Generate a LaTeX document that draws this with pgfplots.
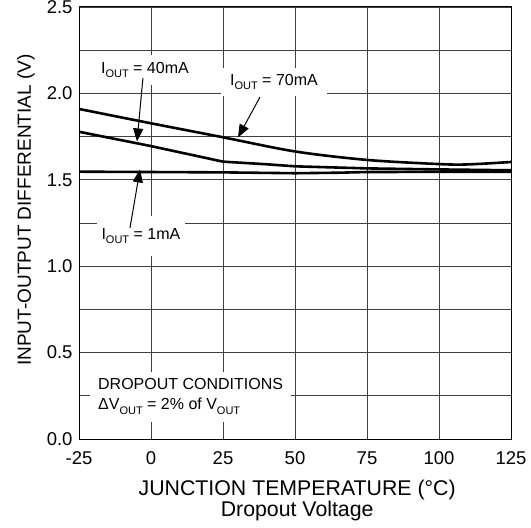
\documentclass[border=0pt]{standalone}
\usepackage{fontspec}
\setmainfont{Liberation Sans}
\usepackage{pgfplots}
\pgfplotsset{compat=1.18}
\usetikzlibrary{arrows.meta,calc}

% subscript as drawn on the datasheet
\newcommand{\sub}[1]{\raisebox{-0.28em}{\fontsize{11}{11}\selectfont #1}}

\begin{document}
\begin{tikzpicture}
\begin{axis}[
    scale only axis,
    width=432pt, height=432pt,
    xmin=-25, xmax=125,
    ymin=0, ymax=2.5,
    xtick={-25,0,25,50,75,100,125},
    xticklabels={-25,0,25,50,75,100,125},
    ytick={0,0.5,1,1.5,2,2.5},
    yticklabels={0.0,0.5,1.0,1.5,2.0,2.5},
    minor ytick={0.25,0.75,1.25,1.75,2.25},
    major tick length=0pt, minor tick length=0pt,
    tick label style={font=\fontsize{18.5}{18.5}\selectfont},
    yticklabel style={xshift=-3pt},
    xticklabel style={yshift=-9.5pt},
    grid=both,
    major grid style={black!75, line width=0.9pt},
    minor grid style={black!75, line width=0.9pt},
    axis line style={line width=1pt},
    xlabel={JUNCTION TEMPERATURE (°C)\\Dropout Voltage},
    xlabel style={at={(axis description cs:0.505,-0.095)}, anchor=north,
        inner sep=0pt, align=center, font=\fontsize{21.3}{21}\selectfont},
    ylabel={INPUT-OUTPUT DIFFERENTIAL (V)},
    ylabel style={at={(axis description cs:-0.1019,0.53)}, anchor=south,
        inner sep=0pt, font=\fontsize{19}{19}\selectfont},
    clip=false,
]

% I_OUT = 70mA
\addplot[black, line width=2.6pt, smooth] coordinates {
    (-25,1.91) (0,1.827) (25,1.746) (50,1.664) (75,1.615)
    (100,1.591) (110,1.589) (125,1.603)
};
% I_OUT = 40mA
\addplot[black, line width=2.6pt] coordinates {
    (-25,1.778) (0,1.695) (25,1.605) (40,1.59) (50,1.578)
    (75,1.566) (100,1.56) (125,1.555)
};
% I_OUT = 1mA
\addplot[black, line width=2.6pt] coordinates {
    (-25,1.547) (0,1.545) (25,1.543) (50,1.538) (65,1.541)
    (75,1.545) (100,1.546) (125,1.546)
};

\node[fill=white, inner xsep=5pt, minimum height=30pt,
      font=\fontsize{16}{16}\selectfont] at (axis cs:-2.1,2.135) {I\sub{OUT} = 40mA};
\node[fill=white, inner xsep=9pt, minimum height=28pt,
      font=\fontsize{16}{16}\selectfont] at (axis cs:42.7,2.066) {I\sub{OUT} = 70mA};
\node[fill=white, inner xsep=5pt, minimum height=40pt,
      font=\fontsize{16}{16}\selectfont] at (axis cs:-3.5,1.175) {I\sub{OUT} = 1mA};
\node[fill=white, anchor=west, align=left, inner xsep=8pt, inner ysep=7pt,
      font=\fontsize{16}{20}\selectfont] at (axis cs:-21.2,0.245)
      {DROPOUT CONDITIONS\\ΔV\sub{OUT} = 2\% of V\sub{OUT}};

\draw[line width=1pt, -{Triangle[length=13pt,width=10pt]}]
    (axis cs:-2.8,2.089) -- (axis cs:-4.86,1.722);
\draw[line width=1pt, -{Triangle[length=13pt,width=10pt]}]
    (axis cs:37.85,1.979) -- (axis cs:30.2,1.745);
\draw[line width=1pt, -{Triangle[length=13pt,width=10pt]}]
    (axis cs:-7.3,1.221) -- (axis cs:-3.82,1.56);
\end{axis}
\pgfresetboundingbox
\path ($(current axis.south west)+(-79pt,-88pt)$) rectangle ($(current axis.north east)+(20pt,7pt)$);
\end{tikzpicture}
\end{document}
